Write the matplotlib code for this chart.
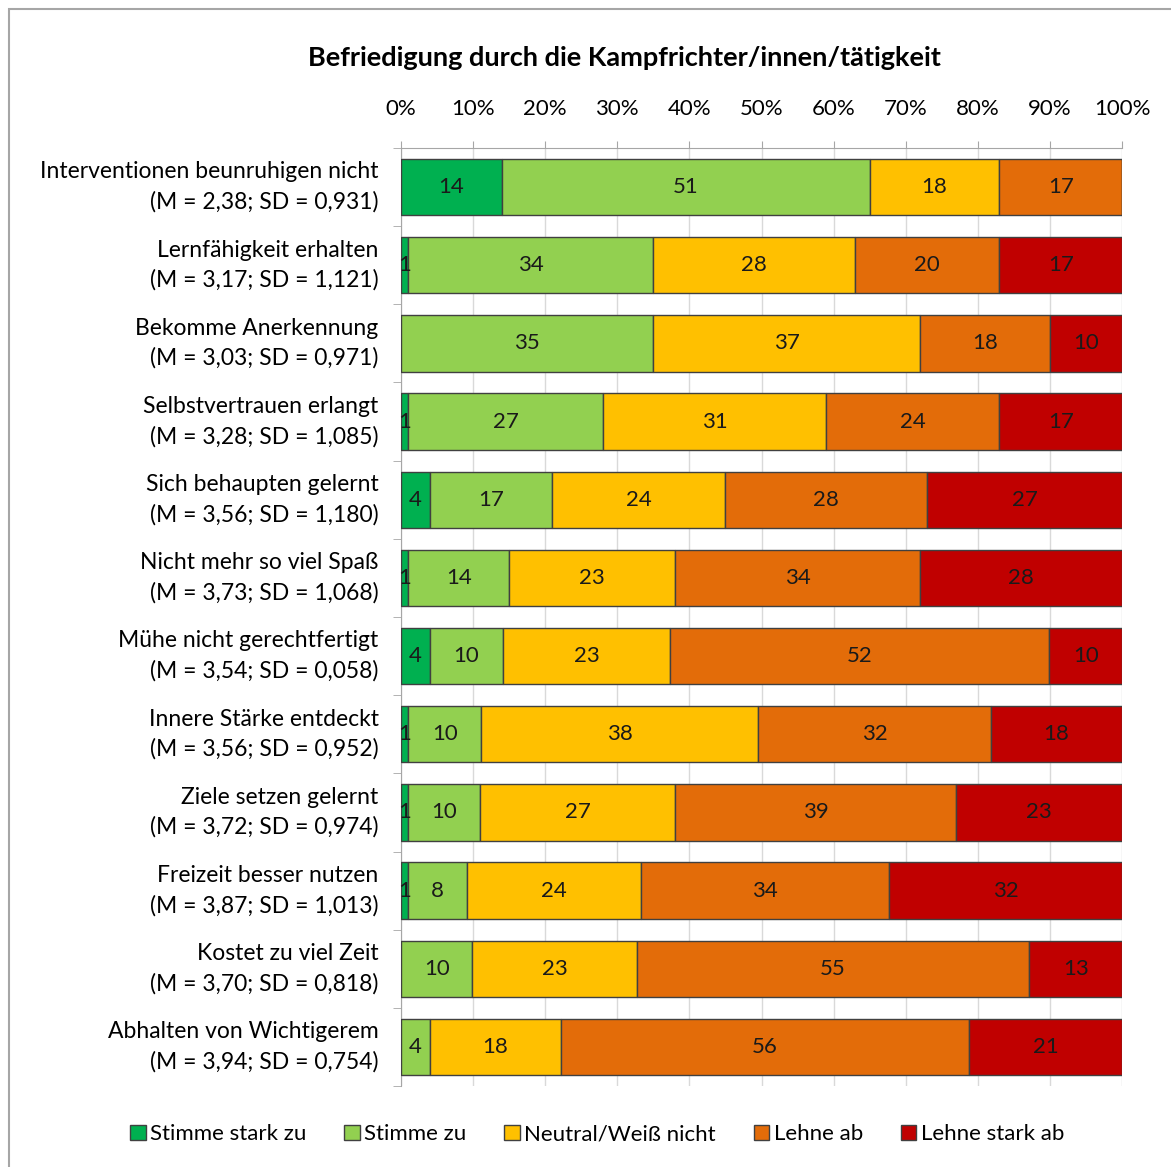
import matplotlib.pyplot as plt
import numpy as np
from matplotlib.patches import Rectangle

plt.rcParams['font.family'] = ['Lato', 'DejaVu Sans']

items = ['Interventionen beunruhigen nicht\n(M = 2,38; SD = 0,931)',
         'Lernfähigkeit erhalten\n(M = 3,17; SD = 1,121)',
         'Bekomme Anerkennung\n(M = 3,03; SD = 0,971)',
         'Selbstvertrauen erlangt\n(M = 3,28; SD = 1,085)',
         'Sich behaupten gelernt\n(M = 3,56; SD = 1,180)',
         'Nicht mehr so viel Spaß\n(M = 3,73; SD = 1,068)',
         'Mühe nicht gerechtfertigt\n(M = 3,54; SD = 0,058)',
         'Innere Stärke entdeckt\n(M = 3,56; SD = 0,952)',
         'Ziele setzen gelernt\n(M = 3,72; SD = 0,974)',
         'Freizeit besser nutzen\n(M = 3,87; SD = 1,013)',
         'Kostet zu viel Zeit\n(M = 3,70; SD = 0,818)',
         'Abhalten von Wichtigerem\n(M = 3,94; SD = 0,754)']

categories = ['Stimme stark zu', 'Stimme zu', 'Neutral/Weiß nicht',
              'Lehne ab', 'Lehne stark ab']
stark_zu = [14, 1, 0, 1, 4, 1, 4, 1, 1, 1, 0, 0]
zu = [51, 34, 35, 27, 17, 14, 10, 10, 10, 8, 10, 4]
neutral = [18, 28, 37, 31, 24, 23, 23, 38, 27, 24, 23, 18]
lehne_ab = [17, 20, 18, 24, 28, 34, 52, 32, 39, 34, 55, 56]
lehne_stark = [0, 17, 10, 17, 27, 28, 10, 18, 23, 32, 13, 21]
colors = ['#00b050', '#92d050', '#ffc000', '#e36c09', '#c00000']

series = np.array([stark_zu, zu, neutral, lehne_ab, lehne_stark], dtype=float)
shares = series / series.sum(axis=0) * 100

fig = plt.figure(figsize=(11.71, 11.67), dpi=100)
fig.patches.append(Rectangle((9 / 1171, -0.05), 1.1, 1 - 9 / 1167 + 0.05,
                             transform=fig.transFigure, fill=False,
                             edgecolor='#a6a6a6', linewidth=1.5))
ax = fig.add_axes([0.3424, 0.0694, 0.6158, 0.8038])

y = np.arange(len(items))
left = np.zeros(len(items))
for i, cat in enumerate(categories):
    ax.barh(y, shares[i], left=left, height=0.72, color=colors[i],
            edgecolor='#404040', linewidth=1, label=cat, zorder=3)
    for j in range(len(items)):
        v = series[i, j]
        if v > 0:
            ax.text(left[j] + shares[i, j] / 2, y[j], '%d' % v, ha='center',
                    va='center', fontsize=16, color='#1a1a1a', zorder=4)
    left += shares[i]

ax.set_xlim(0, 100)
ax.set_ylim(len(items) - 0.5, -0.5)
ax.xaxis.tick_top()
ax.set_xticks(np.arange(0, 101, 10))
ax.set_xticklabels(['%d%%' % t for t in range(0, 101, 10)], fontsize=16)
ax.tick_params(axis='x', direction='out', length=5, color='#a6a6a6', pad=16)
ax.grid(axis='x', color='#d9d9d9', linewidth=1, zorder=0)

ax.set_yticks(y)
ax.set_yticklabels(items, fontsize=16.5, linespacing=1.5)
for lbl in ax.get_yticklabels():
    lbl.set_va('center')
ax.set_yticks(np.arange(-0.5, len(items), 1), minor=True)
ax.tick_params(axis='y', which='major', length=0, pad=16)
ax.tick_params(axis='y', which='minor', length=6, color='#a6a6a6')

for s in ['right', 'bottom']:
    ax.spines[s].set_visible(False)
for s in ['top', 'left']:
    ax.spines[s].set_color('#a6a6a6')

fig.text(0.533, 0.95, 'Befriedigung durch die Kampfrichter/innen/tätigkeit',
         ha='center', va='center', fontsize=19.5, fontweight='bold')

fig.legend(loc='center', bbox_to_anchor=(0.51, 0.028), ncol=5, frameon=False,
           fontsize=16, handlelength=0.7, handleheight=0.7, handletextpad=0.2,
           columnspacing=1.7)

fig.savefig('out.png', dpi=100)
